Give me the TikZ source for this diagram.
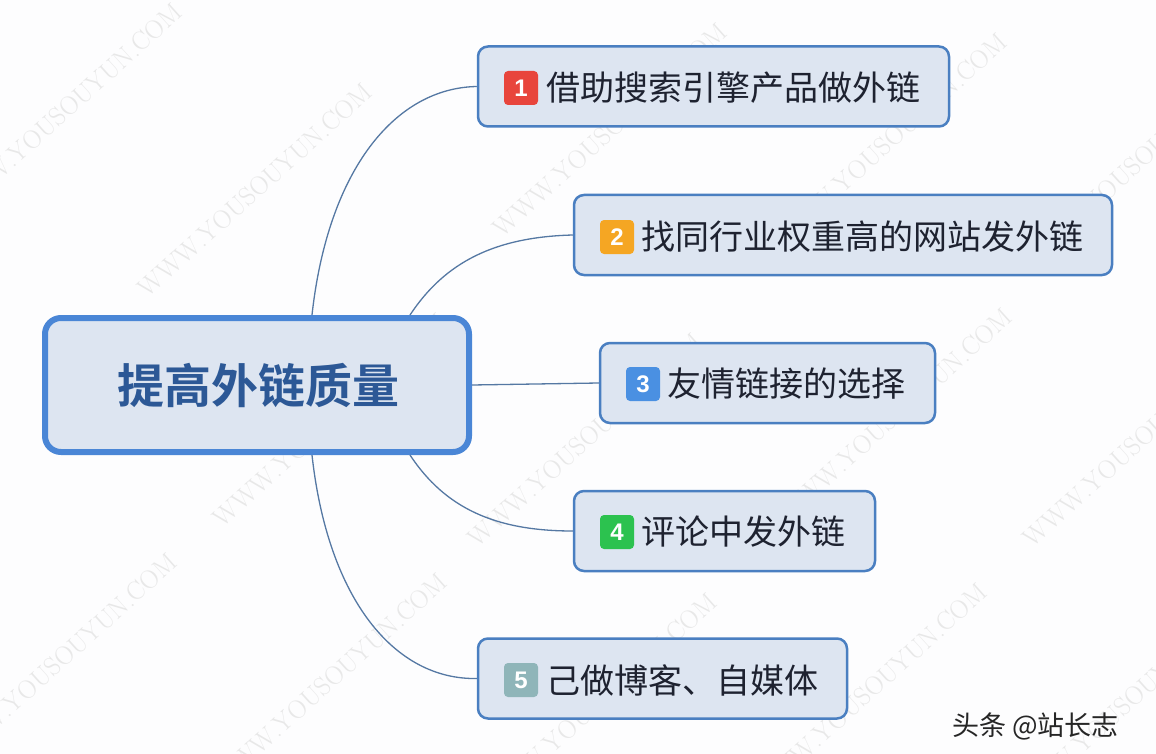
\documentclass[tikz,border=0pt]{standalone}
\usepackage{fontspec}
\newfontfamily\cjk{Noto Sans CJK SC}[BoldFont={Noto Sans CJK SC Bold}]
\newfontfamily\numfont{Liberation Sans}
\definecolor{bgc}{HTML}{FDFDFE}
\definecolor{boxfill}{HTML}{DDE5F1}
\definecolor{boxline}{HTML}{4A7FC1}
\definecolor{mainline}{HTML}{4A86D6}
\definecolor{maintext}{HTML}{2C5896}
\definecolor{linkc}{HTML}{5578A3}
\definecolor{labc}{HTML}{1E2230}
\definecolor{bred}{HTML}{E8453C}
\definecolor{borange}{HTML}{F5A623}
\definecolor{bblue}{HTML}{4A90E2}
\definecolor{bgreen}{HTML}{2CC24F}
\definecolor{bgray}{HTML}{8FB5B9}
\tikzset{
  mainbox/.style={draw=mainline, line width=6pt, fill=boxfill, rounded corners=16pt,
    minimum width=424pt, minimum height=134pt, inner sep=0pt},
  childbox/.style={draw=boxline, line width=2.5pt, fill=boxfill, rounded corners=10pt,
    minimum height=80pt, inner sep=0pt},
  badge/.style={rounded corners=4pt, minimum size=34pt, inner sep=0pt, text=white,
    font=\numfont\bfseries\fontsize{24}{24}\selectfont},
  lab/.style={anchor=west, inner sep=0pt, text=labc, font=\cjk\fontsize{34}{38}\selectfont},
  link/.style={draw=linkc, line width=1.3pt},
  wmark/.style={text=black!9, rotate=42, inner sep=0pt, font=\fontsize{26}{26}\selectfont}
}
\begin{document}
\begin{tikzpicture}[x=1pt, y=-1pt]
\useasboundingbox (0,0) rectangle (1156,754);
\fill[bgc] (0,0) rectangle (1156,754);
% faint watermark
\foreach \px/\py [count=\i] in {65/110, 255/190, 610/130, 890/140, 1140/160, 330/420, 585/440, 895/415, 1140/440, 60/660, 330/680, 600/700, 870/690, 1130/700} {
  \node[wmark] (w\i) at (\px,\py) {WWW.YOUSOUYUN.COM};
}
% central
\node[mainbox] (c) at (257,385) {};
\node[inner sep=0pt, text=maintext, font=\cjk\bfseries\fontsize{47}{50}\selectfont] (ct) at (258,385) {提高外链质量};
% children
\node[childbox, minimum width=471pt] (b1) at (713.5,86.5) {};
\node[childbox, minimum width=538pt] (b2) at (843,235) {};
\node[childbox, minimum width=335pt] (b3) at (767.5,383) {};
\node[childbox, minimum width=301pt] (b4) at (724.5,531) {};
\node[childbox, minimum width=369pt] (b5) at (662.5,678.5) {};
% badges
\node[badge, fill=bred] (n1) at (521,88) {1};
\node[badge, fill=borange] (n2) at (617,237) {2};
\node[badge, fill=bblue] (n3) at (643,384) {3};
\node[badge, fill=bgreen] (n4) at (617,532) {4};
\node[badge, fill=bgray] (n5) at (521,680) {5};
% labels
\node[lab] (t1) at (546,88) {借助搜索引擎产品做外链};
\node[lab] (t2) at (641,237) {找同行业权重高的网站发外链};
\node[lab] (t3) at (667,384) {友情链接的选择};
\node[lab] (t4) at (641,532) {评论中发外链};
\node[lab] (t5) at (546,680) {己做博客、自媒体};
% connectors
\draw[link] ([xshift=55pt]c.north) .. controls (328,170) and (395,88) .. (b1.west);
\draw[link] ([xshift=153pt]c.north) .. controls (445,262) and (495,237) .. (b2.west);
\draw[link] (c.east) -- (b3.west);
\draw[link] ([xshift=153pt]c.south) .. controls (445,508) and (495,531) .. (b4.west);
\draw[link] ([xshift=55pt]c.south) .. controls (328,600) and (395,680) .. (b5.west);
% footer
\node[anchor=west, inner sep=0pt, text=black!85, font=\cjk\fontsize{27}{28}\selectfont] (ft) at (952,726) {头条 @站长志};
\end{tikzpicture}
\end{document}
